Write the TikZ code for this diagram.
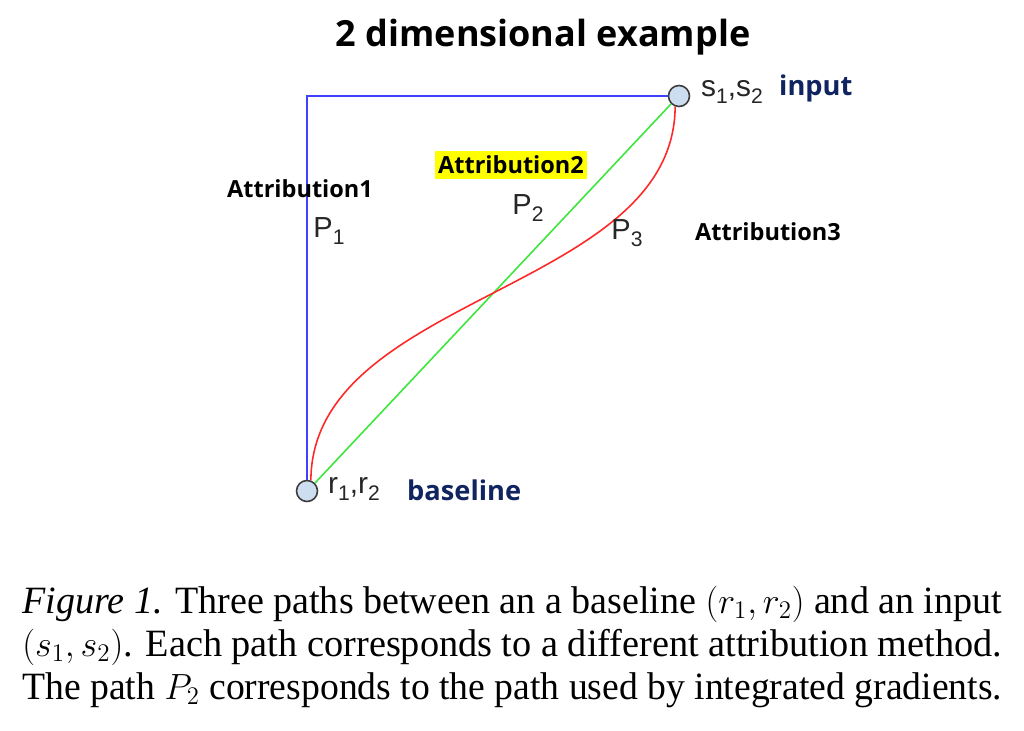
\documentclass[tikz,border=0pt]{standalone}
\usepackage{fontspec}
\usepackage{graphicx}
\setmainfont{Liberation Serif}
\newfontfamily\labelfont{Open Sans}
\newfontfamily\pfont{Liberation Sans}
\usetikzlibrary{positioning}
\definecolor{pathblue}{RGB}{64, 64, 255}
\definecolor{pathgreen}{RGB}{60, 230, 60}
\definecolor{pathred}{RGB}{255, 40, 40}
\definecolor{ptfill}{RGB}{205, 222, 240}
\definecolor{ptedge}{RGB}{60, 60, 60}
\definecolor{navy}{RGB}{16, 36, 96}
\definecolor{hilite}{RGB}{255, 255, 0}
% subscript as drawn in the slide
\newcommand{\psub}[1]{\raisebox{-0.5ex}{\fontsize{12}{12}\selectfont #1}}
\newcommand{\capbox}[1]{\resizebox{19.6cm}{\height}{#1}}

\begin{document}
\begin{tikzpicture}[
          x=0.02cm, y=-0.02cm,
          endpt/.style={draw=ptedge, fill=ptfill, circle, inner sep=0pt,
                        minimum size=0.42cm, line width=0.9pt},
          attr/.style={font=\labelfont\bfseries\fontsize{13.4}{15}\selectfont, inner xsep=2pt, inner ysep=3pt},
          plab/.style={font=\pfont\fontsize{16.5}{18}\selectfont, text=black!85},
          ptlab/.style={font=\pfont\fontsize{17}{19}\selectfont, text=black!85, anchor=west},
          endlab/.style={font=\labelfont\bfseries\fontsize{15.5}{18}\selectfont, text=navy, anchor=west},
          capline/.style={anchor=base west, inner sep=0pt, font=\fontsize{22}{26}\selectfont},
        ]
        \useasboundingbox (0,0) rectangle (1024,730);

        \node[font=\labelfont\bfseries\fontsize{20.5}{24}\selectfont] (title) at (543,37) {2 dimensional example};

        % end points
        \node[endpt] (sp) at (679,96) {};
        \node[endpt] (rp) at (307,491) {};
        \coordinate (corner) at (307,96);

        % the three paths
        \draw[pathblue, line width=0.9pt] (rp.north) -- (corner) -- (sp.west);
        \draw[pathgreen, line width=0.9pt] (rp.45) -- (sp.225);
        \draw[pathred, line width=0.9pt] (rp.70) .. controls (312,294) and (674,292) .. (sp.250);

        \node[attr] (a1) at (300,189) {Attribution1};
        \node[attr, fill=hilite] (a2) at (511,165) {Attribution2};
        \node[attr] (a3) at (768,232) {Attribution3};

        \node[plab] (p1) at (329,231) {P\psub{1}};
        \node[plab] (p2) at (528,208) {P\psub{2}};
        \node[plab] (p3) at (627,233) {P\psub{3}};

        \node[ptlab] (slab) at (695,92) {s\psub{1},s\psub{2}};
        \node[endlab] (inp) at (773,88) {input};
        \node[ptlab] (rlab) at (322,489) {r\psub{1},r\psub{2}};
        \node[endlab] (base) at (401,490) {baseline};

        % caption
        \node[capline] (c1) at (22,613) {\capbox{\textit{Figure 1.} Three paths between an a baseline $(r_1, r_2)$ and an input}};
        \node[capline] (c2) at (22,656) {\capbox{$(s_1, s_2)$. Each path corresponds to a different attribution method.}};
        \node[capline] (c3) at (22,699) {\capbox{The path $P_2$ corresponds to the path used by integrated gradients.}};
\end{tikzpicture}
\end{document}
